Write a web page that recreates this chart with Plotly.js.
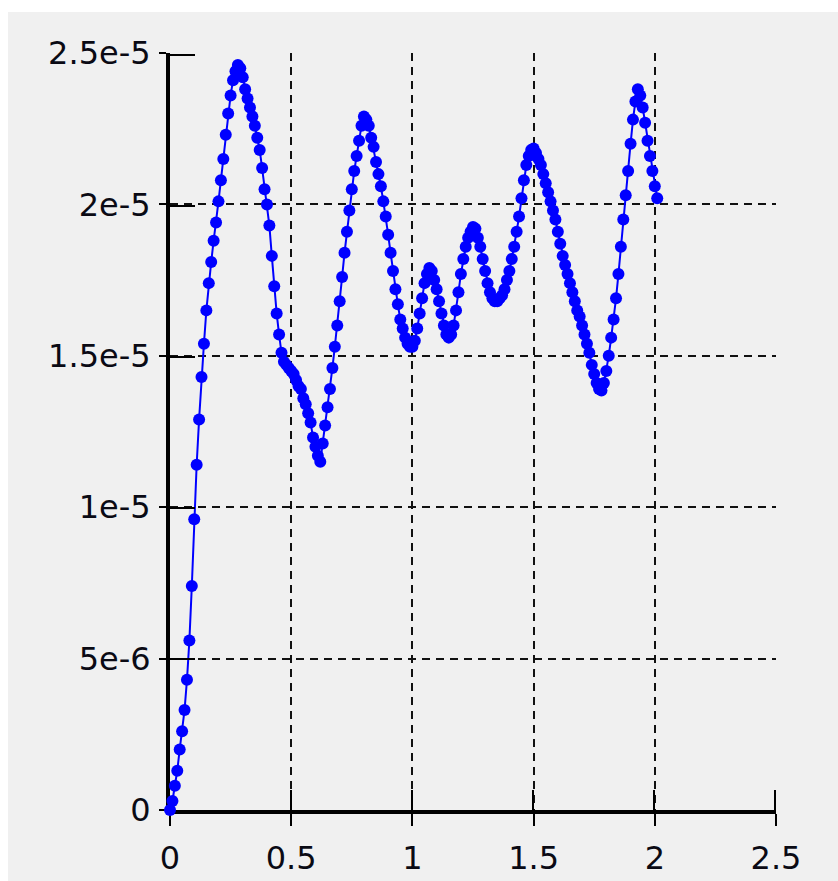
<!DOCTYPE html>
<html>
<head>
<meta charset="utf-8">
<script src="https://cdn.plot.ly/plotly-3.0.1.min.js"></script>
<style>
  html, body { margin: 0; padding: 0; background: #ffffff; width: 838px; height: 881px; overflow: hidden; }
  #panel { position: absolute; left: 8px; top: 12px; width: 830px; height: 869px; background: #f0f0f0; }
  #chart { position: absolute; left: 0; top: 0; width: 838px; height: 881px; }
</style>
</head>
<body>
<div id="panel"></div>
<div id="chart"></div>
<script>
const xValues = [
  0.00,0.01,0.02,0.03,0.04,0.05,0.06,0.07,0.08,0.09,
  0.10,0.11,0.12,0.13,0.14,0.15,0.16,0.17,0.18,0.19,
  0.20,0.21,0.22,0.23,0.24,0.25,0.26,0.27,0.28,0.29,
  0.30,0.31,0.32,0.33,0.34,0.35,0.36,0.37,0.38,0.39,
  0.40,0.41,0.42,0.43,0.44,0.45,0.46,0.47,0.48,0.49,
  0.50,0.51,0.52,0.53,0.54,0.55,0.56,0.57,0.58,0.59,
  0.60,0.61,0.62,0.63,0.64,0.65,0.66,0.67,0.68,0.69,
  0.70,0.71,0.72,0.73,0.74,0.75,0.76,0.77,0.78,0.79,
  0.80,0.81,0.82,0.83,0.84,0.85,0.86,0.87,0.88,0.89,
  0.90,0.91,0.92,0.93,0.94,0.95,0.96,0.97,0.98,0.99,
  1.00,1.01,1.02,1.03,1.04,1.05,1.06,1.07,1.08,1.09,
  1.10,1.11,1.12,1.13,1.14,1.15,1.16,1.17,1.18,1.19,
  1.20,1.21,1.22,1.23,1.24,1.25,1.26,1.27,1.28,1.29,
  1.30,1.31,1.32,1.33,1.34,1.35,1.36,1.37,1.38,1.39,
  1.40,1.41,1.42,1.43,1.44,1.45,1.46,1.47,1.48,1.49,
  1.50,1.51,1.52,1.53,1.54,1.55,1.56,1.57,1.58,1.59,
  1.60,1.61,1.62,1.63,1.64,1.65,1.66,1.67,1.68,1.69,
  1.70,1.71,1.72,1.73,1.74,1.75,1.76,1.77,1.78,1.79,
  1.80,1.81,1.82,1.83,1.84,1.85,1.86,1.87,1.88,1.89,
  1.90,1.91,1.92,1.93,1.94,1.95,1.96,1.97,1.98,1.99,
  2.00,2.01
];
const yValues = [
  0.0e-6,0.3e-6,0.8e-6,1.3e-6,2.0e-6,2.6e-6,3.3e-6,4.3e-6,5.6e-6,7.4e-6,
  9.6e-6,11.4e-6,12.9e-6,14.3e-6,15.4e-6,16.5e-6,17.4e-6,18.1e-6,18.8e-6,19.4e-6,
  20.1e-6,20.8e-6,21.5e-6,22.3e-6,23.0e-6,23.6e-6,24.1e-6,24.4e-6,24.6e-6,24.5e-6,
  24.2e-6,23.8e-6,23.5e-6,23.2e-6,22.9e-6,22.6e-6,22.2e-6,21.8e-6,21.2e-6,20.5e-6,
  20.0e-6,19.3e-6,18.3e-6,17.3e-6,16.4e-6,15.7e-6,15.1e-6,14.8e-6,14.7e-6,14.6e-6,
  14.5e-6,14.4e-6,14.2e-6,14.0e-6,13.9e-6,13.6e-6,13.4e-6,13.1e-6,12.8e-6,12.3e-6,
  12.0e-6,11.7e-6,11.5e-6,12.1e-6,12.7e-6,13.3e-6,13.9e-6,14.6e-6,15.3e-6,16.0e-6,
  16.8e-6,17.6e-6,18.4e-6,19.1e-6,19.8e-6,20.5e-6,21.1e-6,21.6e-6,22.1e-6,22.6e-6,
  22.9e-6,22.8e-6,22.6e-6,22.2e-6,21.9e-6,21.4e-6,21.0e-6,20.6e-6,20.1e-6,19.6e-6,
  19.0e-6,18.4e-6,17.8e-6,17.2e-6,16.7e-6,16.2e-6,15.9e-6,15.6e-6,15.4e-6,15.3e-6,
  15.3e-6,15.5e-6,15.9e-6,16.4e-6,16.9e-6,17.4e-6,17.7e-6,17.9e-6,17.8e-6,17.5e-6,
  17.2e-6,16.8e-6,16.4e-6,16.0e-6,15.7e-6,15.6e-6,15.7e-6,16.0e-6,16.5e-6,17.1e-6,
  17.7e-6,18.2e-6,18.6e-6,18.9e-6,19.1e-6,19.25e-6,19.2e-6,18.9e-6,18.6e-6,18.2e-6,
  17.8e-6,17.4e-6,17.1e-6,16.9e-6,16.8e-6,16.8e-6,16.9e-6,17.0e-6,17.2e-6,17.5e-6,
  17.8e-6,18.2e-6,18.6e-6,19.1e-6,19.6e-6,20.2e-6,20.8e-6,21.3e-6,21.6e-6,21.8e-6,
  21.85e-6,21.7e-6,21.5e-6,21.3e-6,21.0e-6,20.7e-6,20.4e-6,20.1e-6,19.8e-6,19.5e-6,
  19.1e-6,18.7e-6,18.3e-6,18.0e-6,17.7e-6,17.4e-6,17.1e-6,16.8e-6,16.5e-6,16.3e-6,
  16.0e-6,15.7e-6,15.4e-6,15.1e-6,14.7e-6,14.4e-6,14.1e-6,13.9e-6,13.85e-6,14.1e-6,
  14.5e-6,15.0e-6,15.6e-6,16.2e-6,16.9e-6,17.7e-6,18.6e-6,19.5e-6,20.3e-6,21.1e-6,
  22.0e-6,22.8e-6,23.4e-6,23.8e-6,23.6e-6,23.2e-6,22.7e-6,22.1e-6,21.6e-6,21.1e-6,
  20.6e-6,20.2e-6
];
const xTickVals = [0, 0.5, 1, 1.5, 2, 2.5];
const xTickText = ["0", "0.5", "1", "1.5", "2", "2.5"];
const yTickVals = [0, 5e-6, 1e-5, 1.5e-5, 2e-5, 2.5e-5];
const yTickText = ["0", "5e-6", "1e-5", "1.5e-5", "2e-5", "2.5e-5"];
const xRange = [0, 2.5];
const yRange = [0, 2.5e-5];
// tick-only overlay axes reach a hair past the ends so the end ticks are kept
const xTickAxisRange = [0, 2.506];
const yTickAxisRange = [0, 2.506e-5];

const tickFont = { family: "DejaVu Sans, Verdana, sans-serif", size: 32, color: "#0a0a14" };

const traces = [
  {
    x: xValues, y: yValues,
    type: "scatter", mode: "lines+markers",
    line: { color: "#0000ff", width: 2 },
    marker: { color: "#0000ff", size: 12 },
    cliponaxis: false,
    hoverinfo: "skip"
  },
  {
    // invisible copy so the overlaid tick-only axes are drawn
    x: xValues, y: yValues, xaxis: "x2", yaxis: "y2",
    type: "scatter", mode: "markers",
    marker: { color: "rgba(0,0,0,0)", size: 1 },
    hoverinfo: "skip"
  }
];

const baseAxis = {
  showline: true, linecolor: "#000", linewidth: 4,
  showgrid: true, gridcolor: "#111", gridwidth: 2, griddash: "8px,6px",
  zeroline: false, tickmode: "array", tickcolor: "#000", tickwidth: 2,
  tickfont: tickFont, layer: "below traces", fixedrange: true
};

const layout = {
  width: 838, height: 881,
  margin: { l: 170, r: 62, t: 53, b: 71, pad: 0 },
  paper_bgcolor: "rgba(0,0,0,0)", plot_bgcolor: "rgba(0,0,0,0)",
  showlegend: false,
  xaxis: Object.assign({}, baseAxis, {
    range: xRange, tickvals: xTickVals, ticktext: xTickText,
    ticks: "outside", ticklen: 12, ticklabelstandoff: 5
  }),
  yaxis: Object.assign({}, baseAxis, {
    range: yRange, tickvals: yTickVals, ticktext: yTickText,
    ticks: "outside", ticklen: 7, ticklabelstandoff: 2
  }),
  xaxis2: {
    overlaying: "x", anchor: "y", side: "bottom", range: xTickAxisRange,
    tickmode: "array", tickvals: xTickVals, ticks: "inside", ticklen: 20,
    tickwidth: 2, tickcolor: "#000", showticklabels: false,
    showgrid: false, showline: false, zeroline: false, fixedrange: true
  },
  yaxis2: {
    overlaying: "y", anchor: "x", side: "left", range: yTickAxisRange,
    tickmode: "array", tickvals: yTickVals, ticks: "inside", ticklen: 25,
    tickwidth: 2, tickcolor: "#000", showticklabels: false,
    showgrid: false, showline: false, zeroline: false, fixedrange: true
  }
};

Plotly.newPlot("chart", traces, layout, { staticPlot: true, displayModeBar: false });
</script>
</body>
</html>
